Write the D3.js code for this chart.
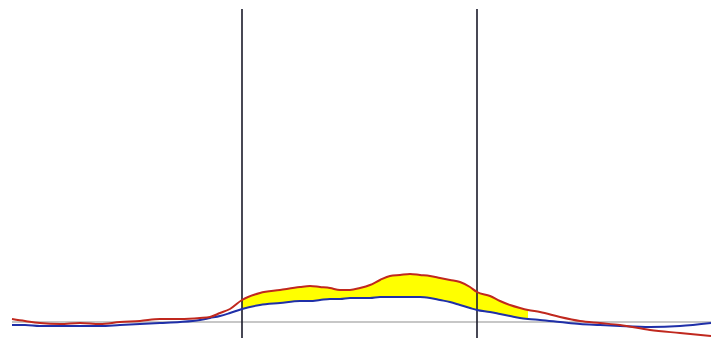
<!DOCTYPE html>
<html><head><meta charset="utf-8">
<script src="https://cdn.jsdelivr.net/npm/d3@7"></script>
<style>html,body{margin:0;padding:0;background:#fff;}svg{display:block;}</style>
</head><body>
<svg id="chart" width="711" height="338"></svg>
<script>
// sample positions (data units)
const positions = [0,13,28,48,68,88,108,128,148,168,188,198,208,218,230,248,268,288,298,308,318,328,338,348,358,368,378,388,398,408,418,428,438,448,458,465,478,488,498,508,516,528,548,568,588,608,638,668,699];
// red series
const redValues = [3,1,-1,-2,-1,-2,0,1,3,3,4,5,9,13,22,29,32,35,36,35,34,32,32,34,37,42,46,47,48,47,46,44,42,40,35,30,26,21,17,14,12,10,5,1,-1,-3,-8,-11,-14];
// blue series
const blueValues = [-3,-3,-4,-4,-4,-4,-3,-2,-1,0,2,4,6,9,13,17,19,21,21,22,23,23,24,24,24,25,25,25,25,25,24,22,20,17,14,12,10,8,6,4,3,2,0,-2,-3,-4,-5,-4,-1];
// vertical markers and fill range
const markers = [230, 465];
const fillRange = [230, 516];
const baselineValue = 0;

const W = 711, H = 338;
const x = d3.scaleLinear().domain([0, 699]).range([12, 711]);
const y = d3.scaleLinear().domain([-16, 313]).range([338, 9]);
const svg = d3.select("#chart");

const data = positions.map((p, i) => ({p, r: redValues[i], b: blueValues[i]}));

// yellow fill between red and blue within fill range
const fillData = data.filter(d => d.p >= fillRange[0] && d.p <= fillRange[1]);
svg.append("path").datum(fillData)
  .attr("fill", "#ffff00")
  .attr("d", d3.area().curve(d3.curveMonotoneX).x(d => x(d.p)).y0(d => y(d.b)).y1(d => y(d.r)));

// baseline
svg.append("line").attr("x1", x(0)).attr("x2", W)
  .attr("y1", y(baselineValue)).attr("y2", y(baselineValue))
  .attr("stroke", "#b4b4b4").attr("stroke-width", 1.5);

// vertical markers
svg.selectAll(".marker").data(markers).enter().append("line")
  .attr("x1", d => x(d)).attr("x2", d => x(d))
  .attr("y1", y(313)).attr("y2", H)
  .attr("stroke", "#1a1a2a").attr("stroke-width", 1.6);

// blue line
svg.append("path").datum(data)
  .attr("fill", "none").attr("stroke", "#1f2fa8").attr("stroke-width", 2)
  .attr("d", d3.line().curve(d3.curveMonotoneX).x(d => x(d.p)).y(d => y(d.b)));

// red line
svg.append("path").datum(data)
  .attr("fill", "none").attr("stroke", "#c0281e").attr("stroke-width", 2)
  .attr("d", d3.line().curve(d3.curveMonotoneX).x(d => x(d.p)).y(d => y(d.r)));
</script>
</body></html>
